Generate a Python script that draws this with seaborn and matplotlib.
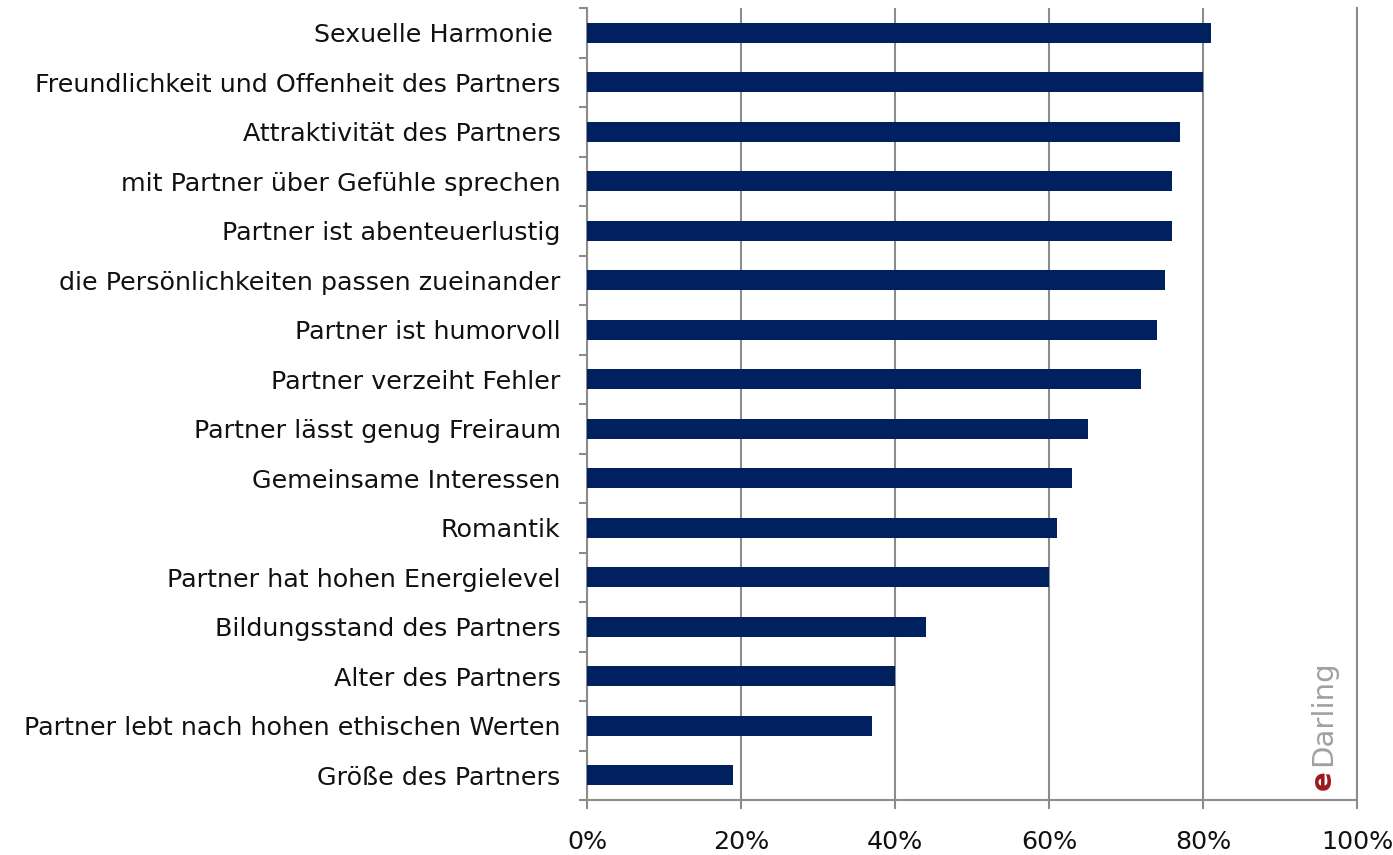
import numpy as np
import pandas as pd
import matplotlib
matplotlib.use("Agg")
import matplotlib.pyplot as plt
import seaborn as sns

# data (share of respondents, %)
categories = [
    "Sexuelle Harmonie ",
    "Freundlichkeit und Offenheit des Partners",
    "Attraktivität des Partners",
    "mit Partner über Gefühle sprechen",
    "Partner ist abenteuerlustig",
    "die Persönlichkeiten passen zueinander",
    "Partner ist humorvoll",
    "Partner verzeiht Fehler",
    "Partner lässt genug Freiraum",
    "Gemeinsame Interessen",
    "Romantik",
    "Partner hat hohen Energielevel",
    "Bildungsstand des Partners",
    "Alter des Partners",
    "Partner lebt nach hohen ethischen Werten",
    "Größe des Partners",
]
values = [81, 80, 77, 76, 76, 75, 74, 72, 65, 63, 61, 60, 44, 40, 37, 19]
x_ticks = [0, 20, 40, 60, 80, 100]

BAR = "#002060"
GRID = "#8c8c8c"
FS = 18.3

sns.set_style("white")
plt.rcParams["font.family"] = ["DejaVu Sans"]

df = pd.DataFrame({"item": categories, "share": values})

fig = plt.figure(figsize=(13.93, 8.55), dpi=100)
ax = fig.add_axes([0.4214, 0.0643, 0.5528, 0.9263])

sns.barplot(data=df, x="share", y="item", orient="h", color=BAR,
            width=0.41, saturation=1, linewidth=0, ax=ax, zorder=3)

ax.set_xlim(0, 100)
ax.set_ylim(len(categories) - 0.5, -0.5)
ax.set_xlabel("")
ax.set_ylabel("")

ax.set_xticks(x_ticks)
ax.set_xticklabels([f"{t}%" for t in x_ticks])
ax.grid(axis="x", color=GRID, linewidth=1.5, zorder=0)
ax.grid(axis="y", visible=False)

ax.set_yticks(np.arange(-0.5, len(categories), 1), minor=True)
ax.tick_params(axis="y", which="major", length=0, pad=19, labelsize=FS,
               labelcolor="#111111")
ax.tick_params(axis="y", which="minor", left=True, length=6, width=1.5,
               color=GRID)
ax.tick_params(axis="x", which="major", bottom=True, length=6.5, width=1.5,
               color=GRID, pad=15, labelsize=FS, labelcolor="#111111")

for side in ["left", "bottom", "right"]:
    ax.spines[side].set_color(GRID)
    ax.spines[side].set_linewidth(1.5)
ax.spines["top"].set_visible(False)

# eDarling watermark, rotated
fig.text(0.9555, 0.076, "e", rotation=90, rotation_mode="anchor",
         ha="left", va="baseline", fontsize=21, fontweight="bold",
         color="#9b1b1f")
fig.text(0.9555, 0.104, "Darling", rotation=90, rotation_mode="anchor",
         ha="left", va="baseline", fontsize=21, color="#a0a0a0")

fig.savefig("out.png", dpi=100)
